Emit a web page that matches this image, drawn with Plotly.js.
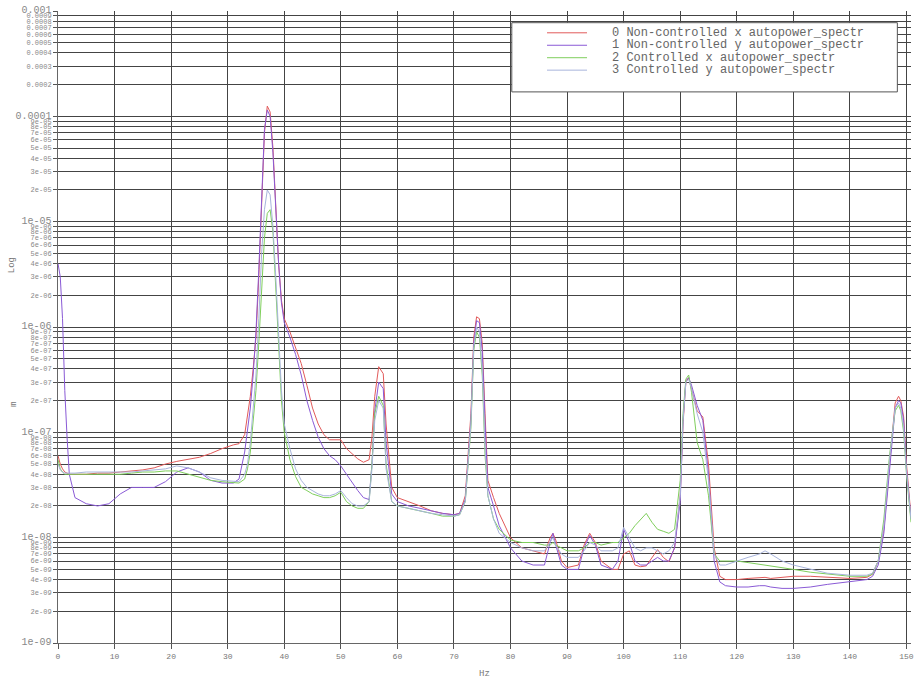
<!DOCTYPE html>
<html>
<head>
<meta charset="utf-8">
<script src="https://cdn.plot.ly/plotly-3.0.1.min.js"></script>
<style>html,body{margin:0;padding:0;background:#fff;}#chart{width:914px;height:683px;}</style>
</head>
<body>
<div id="chart"></div>
<script>
// Frequency (Hz)
var hz = [
  0,0.4,0.8,1.2,1.6,2,3,5,7,9,
  11,13,15,17,19,21,23,25,27,29,
  31,32,33,33.5,34,34.5,35,35.5,36,36.5,
  37,37.5,38,38.5,39,39.5,40,41,42,43,
  44,45,46,47,48,49,50,51,52,53,
  54,55,55.5,56,56.7,57.5,58,59,60,62,
  64,66,68,70,71,72,73,73.5,74,74.5,
  75,75.5,76,77,78,80,82,84,86,87,
  87.5,88,89,90,92,93,94,95,96,98,
  99,100,101,102,103,104,105,106,107,108,
  109,110,110.5,111,111.5,112,113,114,115,116,
  117,118,120,122,124,125,126,128,130,133,
  136,140,143,144,145,146,147,148,148.6,149,
  149.5,150,150.8
];

// 0 Non-controlled x autopower spectrum
var nonCtrlX = [
  6e-8,5e-8,4.5e-8,4.2e-8,4.1e-8,4e-8,4e-8,4e-8,4.1e-8,4.1e-8,
  4.2e-8,4.3e-8,4.4e-8,4.6e-8,5e-8,5.3e-8,5.5e-8,5.8e-8,6.3e-8,7e-8,
  7.6e-8,7.8e-8,9.5e-8,1.4e-7,2.2e-7,4e-7,8e-7,3e-6,1.4e-5,7e-5,
  1.25e-4,1.1e-4,5e-5,1.2e-5,4e-6,1.8e-6,1.2e-6,9e-7,6.5e-7,4.5e-7,
  2.8e-7,1.7e-7,1.2e-7,9.5e-8,8.5e-8,8.5e-8,8.5e-8,7e-8,6.2e-8,5.6e-8,
  5.2e-8,5.5e-8,9e-8,2.2e-7,4.2e-7,3.6e-7,1.2e-7,3e-8,2.4e-8,2.2e-8,
  2e-8,1.8e-8,1.7e-8,1.65e-8,1.7e-8,2.5e-8,1.5e-7,8e-7,1.25e-6,1.2e-6,
  7e-7,1.5e-7,3.5e-8,2.4e-8,1.7e-8,1e-8,8e-9,7.5e-9,7e-9,1e-8,
  1.1e-8,9.5e-9,6e-9,5.2e-9,5.5e-9,8.5e-9,1.1e-8,9e-9,6e-9,5e-9,
  5e-9,7e-9,7.5e-9,5.5e-9,5.3e-9,5.4e-9,6.5e-9,7.7e-9,6.5e-9,5.9e-9,
  8e-9,2.5e-8,1.2e-7,3e-7,3.3e-7,2.6e-7,1.6e-7,1.4e-7,5e-8,8e-9,
  4.3e-9,4e-9,4e-9,4.1e-9,4.2e-9,4.2e-9,4.1e-9,4.2e-9,4.3e-9,4.3e-9,
  4.2e-9,4.1e-9,4.2e-9,4.5e-9,6e-9,1.2e-8,5e-8,1.9e-7,2.2e-7,2e-7,
  1.4e-7,5e-8,1.6e-8
];

// 1 Non-controlled y autopower spectrum
var nonCtrlY = [
  4e-6,3e-6,1.2e-6,2.5e-7,9e-8,4e-8,2.4e-8,2.1e-8,2e-8,2.1e-8,
  2.6e-8,3e-8,3e-8,3e-8,3.4e-8,4.2e-8,4.6e-8,4.2e-8,3.5e-8,3.3e-8,
  3.3e-8,3.6e-8,6.5e-8,1e-7,1.7e-7,3.5e-7,9e-7,3.5e-6,1.6e-5,7.5e-5,
  1.15e-4,1e-4,4.5e-5,1.2e-5,4e-6,1.7e-6,1.1e-6,8e-7,5.5e-7,3.5e-7,
  2e-7,1.3e-7,9e-8,7e-8,6e-8,5.5e-8,4.8e-8,4e-8,3.3e-8,2.8e-8,
  2.4e-8,2.3e-8,5e-8,1.6e-7,3e-7,2.6e-7,8e-8,2.6e-8,2.2e-8,2e-8,
  1.9e-8,1.8e-8,1.7e-8,1.65e-8,1.7e-8,2.3e-8,1.3e-7,7e-7,1.15e-6,1.1e-6,
  6e-7,1.2e-7,3e-8,2e-8,1.3e-8,8e-9,6e-9,5.5e-9,5.5e-9,9e-9,
  1.1e-8,8.5e-9,5.5e-9,5e-9,5e-9,8e-9,1.05e-8,8.5e-9,5.5e-9,5e-9,
  6e-9,1.2e-8,9e-9,6e-9,5.5e-9,5.5e-9,6e-9,6.5e-9,6e-9,6e-9,
  8e-9,2.2e-8,1.3e-7,3.1e-7,3.3e-7,2.8e-7,1.8e-7,1.3e-7,4e-8,6e-9,
  3.8e-9,3.5e-9,3.4e-9,3.4e-9,3.5e-9,3.5e-9,3.4e-9,3.3e-9,3.3e-9,3.4e-9,
  3.6e-9,3.8e-9,4e-9,4.3e-9,5.5e-9,1.1e-8,4.5e-8,1.7e-7,2e-7,1.9e-7,
  1.3e-7,4.5e-8,1.5e-8
];

// 2 Controlled x autopower spectrum
var ctrlX = [
  5.5e-8,4.5e-8,4.2e-8,4e-8,4e-8,4e-8,4e-8,4e-8,4e-8,4e-8,
  4e-8,4.1e-8,4.2e-8,4.2e-8,4.3e-8,4.3e-8,4e-8,3.7e-8,3.5e-8,3.4e-8,
  3.3e-8,3.3e-8,3.6e-8,4.5e-8,6.5e-8,1.2e-7,2.5e-7,7e-7,2.5e-6,7e-6,
  1.2e-5,1.3e-5,8e-6,2.5e-6,6e-7,2e-7,1e-7,5.5e-8,3.8e-8,3e-8,
  2.8e-8,2.6e-8,2.5e-8,2.4e-8,2.4e-8,2.5e-8,2.7e-8,2.2e-8,2e-8,1.9e-8,
  1.9e-8,2.2e-8,5e-8,1.5e-7,2.2e-7,1.8e-7,5e-8,2.2e-8,2e-8,1.9e-8,
  1.8e-8,1.7e-8,1.6e-8,1.6e-8,1.65e-8,2.2e-8,1.1e-7,6e-7,9e-7,8e-7,
  3.5e-7,6e-8,2.5e-8,1.5e-8,1.2e-8,9.5e-9,9e-9,9e-9,8.5e-9,8.5e-9,
  9e-9,8.5e-9,8e-9,7.5e-9,7.5e-9,8e-9,9e-9,9e-9,8.5e-9,9e-9,
  9e-9,1e-8,1.1e-8,1.3e-8,1.5e-8,1.7e-8,1.4e-8,1.2e-8,1.15e-8,1.1e-8,
  1.2e-8,3.5e-8,1.5e-7,3.2e-7,3.5e-7,2.4e-7,8e-8,5.5e-8,2.5e-8,7e-9,
  6e-9,6e-9,6e-9,5.8e-9,5.6e-9,5.5e-9,5.4e-9,5.2e-9,5e-9,4.7e-9,
  4.5e-9,4.3e-9,4.3e-9,4.5e-9,6e-9,1.5e-8,6e-8,1.6e-7,1.8e-7,1.6e-7,
  1e-7,4e-8,1.4e-8
];

// 3 Controlled y autopower spectrum
var ctrlY = [
  5e-8,4.4e-8,4.2e-8,4.1e-8,4.1e-8,4.1e-8,4.1e-8,4.2e-8,4.2e-8,4.2e-8,
  4.2e-8,4.2e-8,4.3e-8,4.4e-8,4.5e-8,4.8e-8,4.6e-8,4.2e-8,3.7e-8,3.5e-8,
  3.4e-8,3.4e-8,4e-8,5e-8,8e-8,1.6e-7,3.5e-7,1.2e-6,5e-6,1.3e-5,
  2e-5,1.8e-5,9e-6,3e-6,8e-7,2.5e-7,1.2e-7,7e-8,4.5e-8,3.5e-8,
  3e-8,2.8e-8,2.6e-8,2.5e-8,2.5e-8,2.6e-8,2.8e-8,2.4e-8,2.1e-8,2e-8,
  2e-8,2.2e-8,4.5e-8,1.3e-7,2e-7,1.7e-7,4.5e-8,2.2e-8,2e-8,1.9e-8,
  1.8e-8,1.7e-8,1.65e-8,1.6e-8,1.65e-8,2.2e-8,1.2e-7,6.5e-7,1e-6,9e-7,
  4e-7,7e-8,2.5e-8,1.5e-8,1.1e-8,9e-9,8e-9,7.5e-9,7.5e-9,9e-9,
  1e-8,8.5e-9,7e-9,6.5e-9,6.5e-9,7.5e-9,9e-9,8.5e-9,7.5e-9,7.5e-9,
  8e-9,1.25e-8,1e-8,8e-9,7.5e-9,8e-9,8e-9,7.5e-9,7e-9,7.5e-9,
  9e-9,2.5e-8,1.3e-7,3e-7,3.2e-7,2.6e-7,1.5e-7,1e-7,3.5e-8,7e-9,
  5.5e-9,5.5e-9,6e-9,6.5e-9,7e-9,7.5e-9,7e-9,6e-9,5.5e-9,5e-9,
  4.6e-9,4.4e-9,4.4e-9,4.6e-9,6e-9,1.3e-8,5.5e-8,1.7e-7,1.9e-7,1.7e-7,
  1.1e-7,4.2e-8,1.5e-8
];

var seriesNames = [
  "0 Non-controlled x autopower_spectr",
  "1 Non-controlled y autopower_spectr",
  "2 Controlled x autopower_spectr",
  "3 Controlled y autopower_spectr"
];
var seriesColors = ["#e25a5a", "#8a5ad6", "#7fcf5c", "#a8b4dc"];

var xTickVals = [0,10,20,30,40,50,60,70,80,90,100,110,120,130,140,150];
var xTickText = ["0","10","20","30","40","50","60","70","80","90","100","110","120","130","140","150"];

// Log y ticks: every mantissa 1..9 in each decade 1e-9 .. 1e-4, plus 1e-3
var decades = [-9,-8,-7,-6,-5,-4];
var mantissas = [1,2,3,4,5,6,7,8,9];
var yTickVals = [], yTickText = [];
function fmtTick(m, d) {
  if (d >= -4) return (m * Math.pow(10, d)).toFixed(-d);
  return m + "e-0" + (-d);
}
decades.forEach(function(d){
  mantissas.forEach(function(m){
    yTickVals.push(m * Math.pow(10, d));
    var t = fmtTick(m, d);
    yTickText.push(m === 1 ? '<span style="font-size:10px">' + t + '</span>' : t);
  });
});
yTickVals.push(1e-3);
yTickText.push('<span style="font-size:10px">0.001</span>');

var mono = "Liberation Mono, DejaVu Sans Mono, monospace";
var ys = [nonCtrlX, nonCtrlY, ctrlX, ctrlY];
var traces = ys.map(function(y, i){
  return {
    x: hz, y: y, type: "scatter", mode: "lines",
    name: seriesNames[i],
    line: {color: seriesColors[i], width: 1}
  };
});

// Hand-drawn legend box (paper coordinates), entries follow the series order
var legX0 = 0.532, legX1 = 0.984, legY0 = 0.872, legY1 = 0.9815;
var legRowTop = 0.9655, legRowStep = 0.0197;
var shapes = [{
  type: "rect", xref: "paper", yref: "paper",
  x0: legX0, x1: legX1, y0: legY0, y1: legY1,
  fillcolor: "#fff", line: {color: "#555", width: 1}, layer: "above"
}];
var annotations = [
  {text: "Log", xref: "paper", yref: "paper", x: -0.062, y: 0.598, showarrow: false,
   textangle: -90, font: {family: mono, size: 9, color: "#777"}},
  {text: "m", xref: "paper", yref: "paper", x: -0.060, y: 0.378, showarrow: false,
   textangle: -90, font: {family: mono, size: 9, color: "#777"}}
];
seriesNames.forEach(function(n, i){
  var yy = legRowTop - i * legRowStep;
  shapes.push({type: "line", xref: "paper", yref: "paper",
    x0: 0.5733, x1: 0.6202, y0: yy, y1: yy, layer: "above",
    line: {color: seriesColors[i], width: 1}});
  annotations.push({text: n, xref: "paper", yref: "paper", x: 0.647, y: yy,
    xanchor: "left", yanchor: "middle", showarrow: false,
    font: {family: mono, size: 12, color: "#666"}});
});

var layout = {
  width: 914, height: 683,
  margin: {l: 58, r: 3, t: 11, b: 40},
  paper_bgcolor: "#fff", plot_bgcolor: "#fff",
  font: {family: mono, size: 8, color: "#777"},
  showlegend: false,
  xaxis: {
    range: [0, 150.8],
    tickmode: "array", tickvals: xTickVals, ticktext: xTickText,
    ticks: "outside", ticklen: 5, tickcolor: "#555",
    showgrid: true, gridcolor: "#444", gridwidth: 1,
    showline: true, linecolor: "#666", linewidth: 1,
    zeroline: false,
    tickfont: {family: mono, size: 8, color: "#777"},
    title: {text: "Hz", font: {family: mono, size: 9, color: "#777"}, standoff: 10}
  },
  yaxis: {
    type: "log", range: [-9, -3],
    tickmode: "array", tickvals: yTickVals, ticktext: yTickText,
    ticks: "outside", ticklen: 4, tickcolor: "#555",
    showgrid: true, gridcolor: "#444", gridwidth: 1,
    showline: true, linecolor: "#666", linewidth: 1,
    zeroline: false,
    tickfont: {family: mono, size: 7, color: "#888"}
  },
  shapes: shapes,
  annotations: annotations
};

Plotly.newPlot("chart", traces, layout, {displayModeBar: false, staticPlot: true});
</script>
</body>
</html>
